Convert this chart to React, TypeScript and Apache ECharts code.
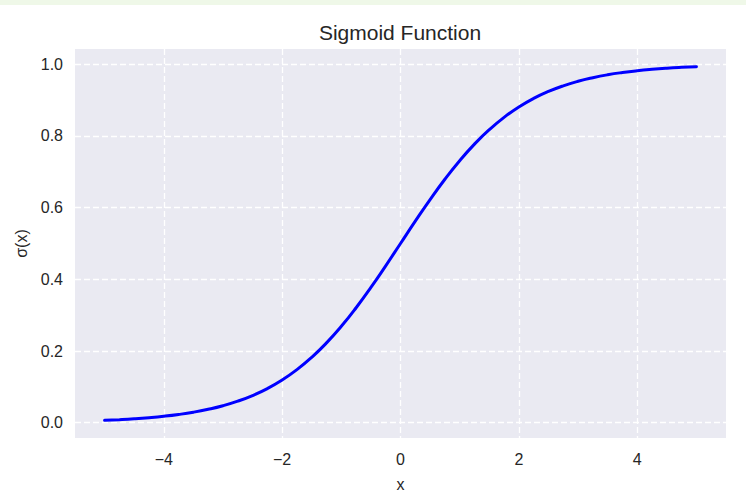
import React, { useEffect, useRef } from "react";
import * as echarts from "echarts";

const xValues = [
  -5, -4.75, -4.5, -4.25, -4, -3.75, -3.5, -3.25, -3, -2.75, -2.5, -2.25, -2, -1.75, -1.5, -1.25, -1, -0.75, -0.5, -0.25,
  0, 0.25, 0.5, 0.75, 1, 1.25, 1.5, 1.75, 2, 2.25, 2.5, 2.75, 3, 3.25, 3.5, 3.75, 4, 4.25, 4.5, 4.75, 5,
];
const sigmaValues = [
  0.0067, 0.0086, 0.011, 0.0141, 0.018, 0.023, 0.0293, 0.0374, 0.0474, 0.0601, 0.0759, 0.0953, 0.1192, 0.148, 0.1824,
  0.2227, 0.2689, 0.3208, 0.3775, 0.4378, 0.5, 0.5622, 0.6225, 0.6792, 0.7311, 0.7773, 0.8176, 0.852, 0.8808, 0.9047,
  0.9241, 0.9399, 0.9526, 0.9626, 0.9707, 0.977, 0.982, 0.9859, 0.989, 0.9914, 0.9933,
];
const xTicks = [-4, -2, 0, 2, 4];
const yTicks = [0, 0.2, 0.4, 0.6, 0.8, 1.0];
const titleText = "Sigmoid Function";
const xLabel = "x";
const yLabel = "σ(x)";

const FONT = "'Liberation Sans', Arial, sans-serif";
const TEXT = "#262626";

export default function App() {
  const ref = useRef<HTMLDivElement>(null);
  useEffect(() => {
    if (!ref.current) return;
    const chart = echarts.init(ref.current, undefined, { renderer: "svg" });
    const fmt = (v: number, dec: number) => (v < 0 ? "\u2212" + Math.abs(v).toFixed(dec) : v.toFixed(dec));
    const split = { show: true, lineStyle: { color: "#ffffff", width: 1.3, type: [6, 3] } };
    chart.setOption({
      animation: false,
      backgroundColor: "#ffffff",
      textStyle: { fontFamily: FONT },
      graphic: [
        { type: "rect", left: 0, top: 0, shape: { width: 746, height: 5 }, style: { fill: "#eff8e8" }, silent: true },
        {
          type: "text",
          x: 400,
          y: 32,
          silent: true,
          style: {
            text: titleText,
            fill: TEXT,
            font: `21px ${FONT}`,
            textAlign: "center",
            textVerticalAlign: "middle",
          },
        },
      ],
      grid: {
        left: 75,
        right: 20,
        top: 49,
        bottom: 55,
        show: true,
        backgroundColor: "#eaeaf2",
        borderWidth: 0,
      },
      xAxis: {
        type: "value",
        min: -5.5,
        max: 5.5,
        name: xLabel,
        nameLocation: "middle",
        nameGap: 38,
        nameTextStyle: { fontFamily: FONT, fontSize: 16, color: TEXT },
        axisLine: { show: false },
        axisTick: { show: false, customValues: xTicks },
        axisLabel: {
          customValues: xTicks,
          fontFamily: FONT,
          fontSize: 16,
          color: TEXT,
          margin: 13,
          formatter: (v: number) => fmt(v, 0),
        },
        splitLine: split,
      },
      yAxis: {
        type: "value",
        min: -0.0426,
        max: 1.0426,
        name: yLabel,
        nameLocation: "middle",
        nameGap: 45,
        nameRotate: 90,
        nameTextStyle: { fontFamily: FONT, fontSize: 16, color: TEXT },
        axisLine: { show: false },
        axisTick: { show: false, customValues: yTicks },
        axisLabel: {
          customValues: yTicks,
          fontFamily: FONT,
          fontSize: 16,
          color: TEXT,
          margin: 12,
          formatter: (v: number) => fmt(v, 1),
        },
        splitLine: split,
      },
      series: [
        {
          type: "line",
          data: xValues.map((x, i) => [x, sigmaValues[i]]),
          showSymbol: false,
          smooth: true,
          lineStyle: { color: "#0000ff", width: 3, cap: "round" },
        },
      ],
    });
    return () => chart.dispose();
  }, []);
  return <div ref={ref} style={{ position: "absolute", left: 0, top: 0, width: 746, height: 497 }} />;
}
